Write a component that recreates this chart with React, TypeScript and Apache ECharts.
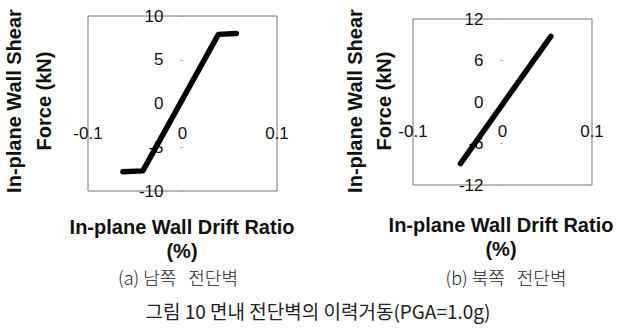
import React, { useEffect, useRef } from "react";
import * as echarts from "echarts";

// (a) south shear wall: [drift ratio %, shear force kN]
const southDrift = [-0.063, -0.042, 0.038, 0.057];
const southForce = [-7.8, -7.7, 7.9, 8.0];
// (b) north shear wall
const northDrift = [-0.047, 0.054];
const northForce = [-8.9, 9.5];

const xTicks = [-0.1, 0, 0.1];
const southYTicks = [-10, -5, 0, 5, 10];
const northYTicks = [-12, -6, 0, 6, 12];

const yTitle1 = "In-plane Wall Shear";
const yTitle2 = "Force (kN)";
const xTitle1 = "In-plane Wall Drift Ratio";
const xTitle2 = "(%)";
const subCaptions = ["(a) 남쪽   전단벽", "(b) 북쪽   전단벽"];
const caption = "그림 10 면내 전단벽의 이력거동(PGA=1.0g)";

const FONT = "Liberation Sans, Arial, Helvetica, sans-serif";
const KFONT = "'Noto Sans CJK KR', sans-serif";

function pairs(xs: number[], ys: number[]) {
  return xs.map((x, i) => [x, ys[i]]);
}

function xAxisOf(gridIndex: number, offset: number) {
  return {
    gridIndex,
    type: "value",
    position: "bottom",
    offset,
    min: xTicks[0],
    max: xTicks[xTicks.length - 1],
    interval: 0.1,
    axisLine: { show: false, onZero: false },
    axisTick: { show: false },
    splitLine: { show: false },
    axisLabel: {
      fontSize: 17,
      fontFamily: FONT,
      color: "#111",
      margin: 21,
      showMinLabel: true,
      showMaxLabel: true,
      formatter: (v: number) => (Math.abs(v) < 1e-9 ? "0" : v.toFixed(1)),
    },
  };
}

function yAxisOf(gridIndex: number, ticks: number[], offset: number) {
  return {
    gridIndex,
    type: "value",
    position: "left",
    offset,
    min: ticks[0],
    max: ticks[ticks.length - 1],
    interval: ticks[1] - ticks[0],
    axisLine: { show: false, onZero: false },
    axisTick: { show: true, length: 2, lineStyle: { color: "#999" } },
    splitLine: { show: false },
    axisLabel: {
      fontSize: 17,
      fontFamily: FONT,
      color: "#111",
      margin: 19,
      showMinLabel: true,
      showMaxLabel: true,
    },
  };
}

function yTitle(x1: number, x2: number, cy: number) {
  return [
    {
      type: "text",
      x: x1,
      y: cy,
      rotation: Math.PI / 2,
      style: {
        text: yTitle1,
        font: `bold 20px ${FONT}`,
        fill: "#111",
        textAlign: "center",
        textVerticalAlign: "middle",
      },
    },
    {
      type: "text",
      x: x2,
      y: cy,
      rotation: Math.PI / 2,
      style: {
        text: yTitle2,
        font: `bold 20px ${FONT}`,
        fill: "#111",
        textAlign: "center",
        textVerticalAlign: "middle",
      },
    },
  ];
}

function xTitle(cx: number, y1: number, y2: number) {
  return [
    {
      type: "text",
      x: cx,
      y: y1,
      style: {
        text: xTitle1,
        font: `bold 20px ${FONT}`,
        fill: "#111",
        textAlign: "center",
        textVerticalAlign: "middle",
      },
    },
    {
      type: "text",
      x: cx,
      y: y2,
      style: {
        text: xTitle2,
        font: `bold 20px ${FONT}`,
        fill: "#111",
        textAlign: "center",
        textVerticalAlign: "middle",
      },
    },
  ];
}

function subCap(text: string, cx: number) {
  return {
    type: "text",
    x: cx,
    y: 277,
    style: {
      text,
      font: `300 18px ${KFONT}`,
      fill: "#222",
      textAlign: "center",
      textVerticalAlign: "middle",
    },
  };
}

export default function App() {
  const ref = useRef<HTMLDivElement>(null);
  useEffect(() => {
    if (!ref.current) return;
    const chart = echarts.init(ref.current, null, { renderer: "svg" });
    chart.setOption({
      animation: false,
      backgroundColor: "#fff",
      grid: [
        {
          left: 88,
          top: 16,
          width: 189,
          height: 175,
          show: true,
          borderColor: "#777",
          borderWidth: 1,
          backgroundColor: "transparent",
        },
        {
          left: 413,
          top: 19,
          width: 179,
          height: 166,
          show: true,
          borderColor: "#777",
          borderWidth: 1,
          backgroundColor: "transparent",
        },
      ],
      xAxis: [xAxisOf(0, -87.5), xAxisOf(1, -83)],
      yAxis: [yAxisOf(0, southYTicks, -94.5), yAxisOf(1, northYTicks, -89.5)],
      series: [
        {
          type: "line",
          xAxisIndex: 0,
          yAxisIndex: 0,
          data: pairs(southDrift, southForce),
          symbol: "none",
          lineStyle: { color: "#000", width: 5.5, cap: "round", join: "round" },
        },
        {
          type: "line",
          xAxisIndex: 1,
          yAxisIndex: 1,
          data: pairs(northDrift, northForce),
          symbol: "none",
          lineStyle: { color: "#000", width: 5.5, cap: "round", join: "round" },
        },
      ],
      graphic: [
        ...yTitle(14, 44, 101),
        ...yTitle(355, 384, 101),
        ...xTitle(182, 227, 251),
        ...xTitle(501, 225, 249),
        subCap(subCaptions[0], 178),
        subCap(subCaptions[1], 506),
        {
          type: "text",
          x: 318,
          y: 310,
          style: {
            text: caption,
            font: `19px ${KFONT}`,
            fill: "#222",
            textAlign: "center",
            textVerticalAlign: "middle",
          },
        },
      ],
    });
    return () => chart.dispose();
  }, []);
  return (
    <div
      ref={ref}
      style={{ position: "fixed", left: 0, top: 0, width: 630, height: 332, background: "#fff" }}
    />
  );
}
